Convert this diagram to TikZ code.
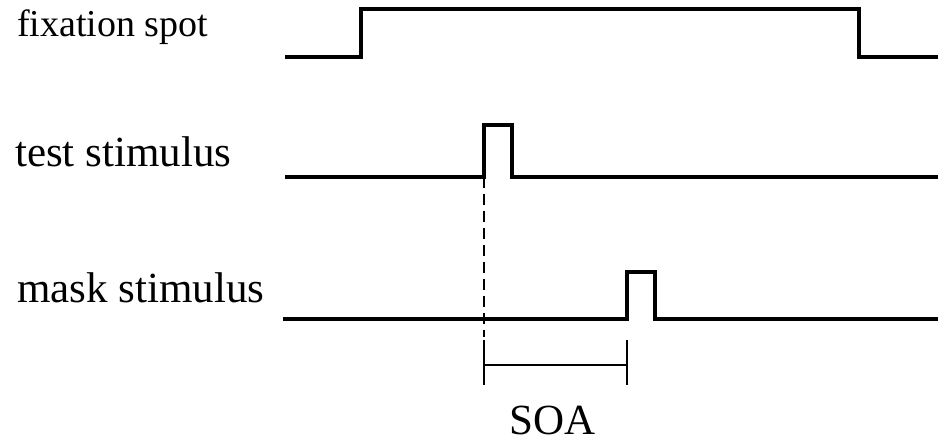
\documentclass[tikz,border=0pt]{standalone}
\usepackage{fontspec}
\setmainfont{Liberation Serif}
\begin{document}
\begin{tikzpicture}[x=1pt,y=-1pt,
  lbl/.style={anchor=base west,inner sep=0pt,font=\fontsize{43}{43}\selectfont},
  signal/.style={line width=3.6pt,line join=miter},
  guide/.style={line width=2.4pt,dash pattern=on 11pt off 6pt},
  bar/.style={line width=2.6pt}]
\useasboundingbox (0,0) rectangle (938,443);
% labels
\node[lbl,font=\fontsize{38}{38}\selectfont] (fix) at (17,37) {fixation spot};
\node[lbl] (test) at (15,167) {test stimulus};
\node[lbl] (mask) at (17,303) {mask stimulus};
\node[inner sep=0pt,anchor=base,font=\fontsize{43}{43}\selectfont] (soa) at (553,435) {SOA};
% fixation signal
\coordinate (f0) at (285,57);
\coordinate (f1) at (361,57);
\coordinate (f2) at (361,9);
\coordinate (f3) at (859,9);
\coordinate (f4) at (859,57);
\coordinate (f5) at (938,57);
\draw[signal] (f0) -- (f1) -- (f2) -- (f3) -- (f4) -- (f5);
% test signal
\coordinate (t0) at (285,177);
\coordinate (t1) at (484,177);
\coordinate (t2) at (484,125);
\coordinate (t3) at (512,125);
\coordinate (t4) at (512,177);
\coordinate (t5) at (938,177);
\draw[signal] (t0) -- (t1) -- (t2) -- (t3) -- (t4) -- (t5);
% mask signal
\coordinate (m0) at (283,319);
\coordinate (m1) at (627,319);
\coordinate (m2) at (627,272);
\coordinate (m3) at (655,272);
\coordinate (m4) at (655,319);
\coordinate (m5) at (938,319);
\draw[signal] (m0) -- (m1) -- (m2) -- (m3) -- (m4) -- (m5);
% dashed guide
\coordinate (d1) at (484,337);
\draw[guide] (t1) -- (d1);
% SOA bracket
\coordinate (la) at (484,340);
\coordinate (lb) at (484,385);
\coordinate (ra) at (627,340);
\coordinate (rb) at (627,385);
\coordinate (lm) at (484,365);
\coordinate (rm) at (627,365);
\draw[bar] (la) -- (lb);
\draw[bar] (ra) -- (rb);
\draw[bar] (lm) -- (rm);
\end{tikzpicture}
\end{document}
